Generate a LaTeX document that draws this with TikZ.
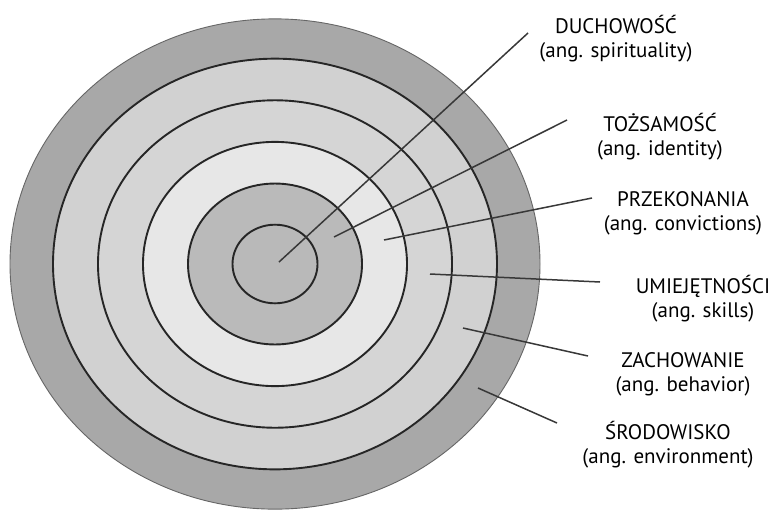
\documentclass[tikz,border=0pt]{standalone}
\usepackage{fontspec}
\setmainfont{PT Sans}
\usepackage{tikz}
\usetikzlibrary{calc}

\definecolor{ringA}{HTML}{B9B9B9}
\definecolor{ringB}{HTML}{BABABA}
\definecolor{ringC}{HTML}{E7E7E7}
\definecolor{ringD}{HTML}{D5D5D5}
\definecolor{ringE}{HTML}{D1D1D1}
\definecolor{ringF}{HTML}{A8A8A8}

\begin{document}
\begin{tikzpicture}[x=1pt,y=-1pt,
    ring/.style={draw=black!85,line width=1.9pt},
    leader/.style={draw=black!78,line width=1.5pt},
    caption/.style={align=center,inner sep=0pt,font=\fontsize{21}{24}\selectfont}]
  \useasboundingbox (0,0) rectangle (775,509);
  \coordinate (c) at (275,264);
  % rings, outside in
  \filldraw[fill=ringF,draw=black!60,line width=0.9pt] (c) ellipse (265 and {0.925*265});
  \foreach \r/\col in {222/ringE,177/ringD,132/ringC,87/ringB,42.5/ringA}
    \filldraw[ring,fill=\col] (c) ellipse ({\r} and {0.925*\r});

  % labels
  \node[caption] (spirit) at (616,39) {\vphantom{Ś}DUCHOWOŚĆ\\(ang. spirituality)};
  \node[caption] (ident) at (660,137) {\vphantom{Ś}TOŻSAMOŚĆ\\(ang. identity)};
  \node[caption] (convic) at (683,212) {\vphantom{Ś}PRZEKONANIA\\(ang. convictions)};
  \node[caption] (skill) at (703,299) {\vphantom{Ś}UMIEJĘTNOŚCI\\(ang. skills)};
  \node[caption] (behav) at (683,373) {\vphantom{Ś}ZACHOWANIE\\(ang. behavior)};
  \node[caption] (envir) at (668,445) {\vphantom{Ś}ŚRODOWISKO\\(ang. environment)};

  % leader lines
  \coordinate (s1) at (279,262); \coordinate (e1) at (528,33);
  \coordinate (s2) at (334,237); \coordinate (e2) at (567,120);
  \coordinate (s3) at (384,240); \coordinate (e3) at (592,198);
  \coordinate (s4) at (430,274); \coordinate (e4) at (600,282);
  \coordinate (s5) at (463,328); \coordinate (e5) at (588,356);
  \coordinate (s6) at (478,388); \coordinate (e6) at (557,423);
  \foreach \i in {1,...,6}
    \draw[leader] (s\i) -- (e\i);
\end{tikzpicture}
\end{document}
